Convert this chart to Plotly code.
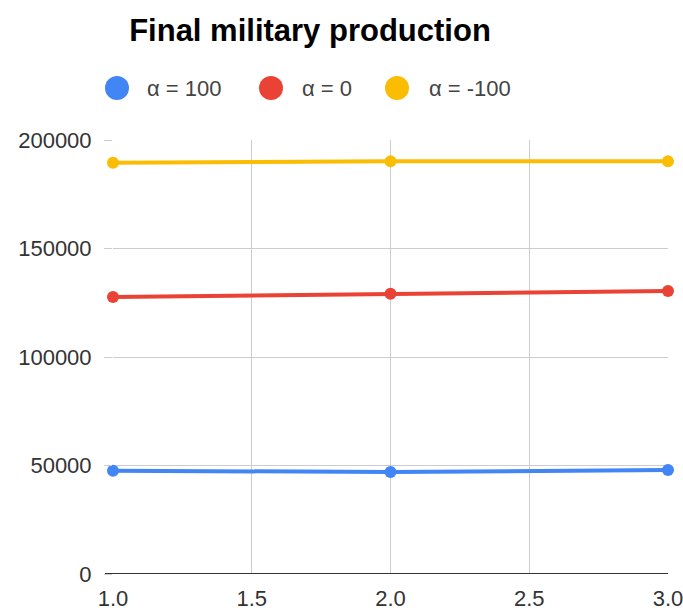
import plotly.graph_objects as go

# Simulation runs and final military production per alpha setting
runs = [1, 2, 3]
alpha_100 = [47600, 47000, 47900]
alpha_0 = [127650, 129170, 130410]
alpha_neg100 = [189540, 190150, 190150]

series_names = ["α = 100", "α = 0", "α = -100"]
series_values = [alpha_100, alpha_0, alpha_neg100]
series_colors = ["#4285F4", "#EA4335", "#FBBC04"]

x_ticks = [1, 1.5, 2, 2.5, 3]
x_tick_text = ["1.0", "1.5", "2.0", "2.5", "3.0"]
y_ticks = [0, 50000, 100000, 150000, 200000]
y_tick_text = ["0", "50000", "100000", "150000", "200000"]

FONT = "Liberation Sans, Arial, sans-serif"
W, H = 683, 611
L, R, T, B = 113, 15, 140, 37
PW, PH = W - L - R, H - T - B


def px_to_paper(px, py):
    return (px - L) / PW, (H - B - py) / PH


fig = go.Figure()
for name, vals, color in zip(series_names, series_values, series_colors):
    fig.add_trace(go.Scatter(
        x=runs, y=vals, mode="lines+markers", name=name,
        line=dict(color=color, width=4),
        marker=dict(color=color, size=12),
        cliponaxis=False, showlegend=False,
    ))

# Legend row: dot plus label for each series
legend_dots_x = [117, 271, 397]
legend_text_x = [145, 300, 427]
legend_y = 88
shapes, annotations = [], []
for dx, tx, name, color in zip(legend_dots_x, legend_text_x, series_names, series_colors):
    cx, cy = px_to_paper(dx, legend_y)
    shapes.append(dict(
        type="circle", xref="paper", yref="paper",
        xsizemode="pixel", ysizemode="pixel",
        xanchor=cx, yanchor=cy, x0=-12, x1=12, y0=-12, y1=12,
        fillcolor=color, line=dict(width=0),
    ))
    ax, ay = px_to_paper(tx, legend_y)
    annotations.append(dict(
        text=name, x=ax, y=ay, xref="paper", yref="paper",
        xanchor="left", yanchor="middle", showarrow=False,
        font=dict(family=FONT, size=22, color="#444444"),
    ))

# Baseline extends a little left of the plot, like the gridline stubs
shapes.append(dict(
    type="line", xref="paper", yref="y",
    x0=-8 / PW, x1=1, y0=0, y1=0,
    line=dict(color="#333333", width=2), layer="above",
))

fig.update_layout(
    width=W, height=H,
    margin=dict(l=L, r=R, t=T, b=B, autoexpand=False),
    paper_bgcolor="white", plot_bgcolor="white",
    font=dict(family=FONT, size=22, color="#333333"),
    title=dict(
        text="<b>Final military production</b>",
        x=310 / W, xanchor="center", xref="container",
        y=1 - 30 / H, yanchor="middle", yref="container",
        font=dict(family=FONT, size=31, color="#000000"),
    ),
    showlegend=False,
    shapes=shapes,
    annotations=annotations,
)
fig.update_xaxes(
    range=[1, 3], tickvals=x_ticks, ticktext=x_tick_text,
    showgrid=True, gridcolor="#cccccc", gridwidth=1,
    zeroline=False, showline=False, ticks="",
    ticklabelstandoff=9, ticklabeloverflow="allow",
    automargin=False,
    tickfont=dict(family=FONT, size=22, color="#333333"),
)
fig.update_yaxes(
    range=[0, 200000], tickvals=y_ticks, ticktext=y_tick_text,
    showgrid=True, gridcolor="#cccccc", gridwidth=1,
    zeroline=False, showline=False,
    ticks="outside", ticklen=8, tickcolor="#cccccc",
    ticklabelstandoff=8, ticklabeloverflow="allow",
    automargin=False,
    tickfont=dict(family=FONT, size=22, color="#333333"),
)

fig.write_html("out.html")
